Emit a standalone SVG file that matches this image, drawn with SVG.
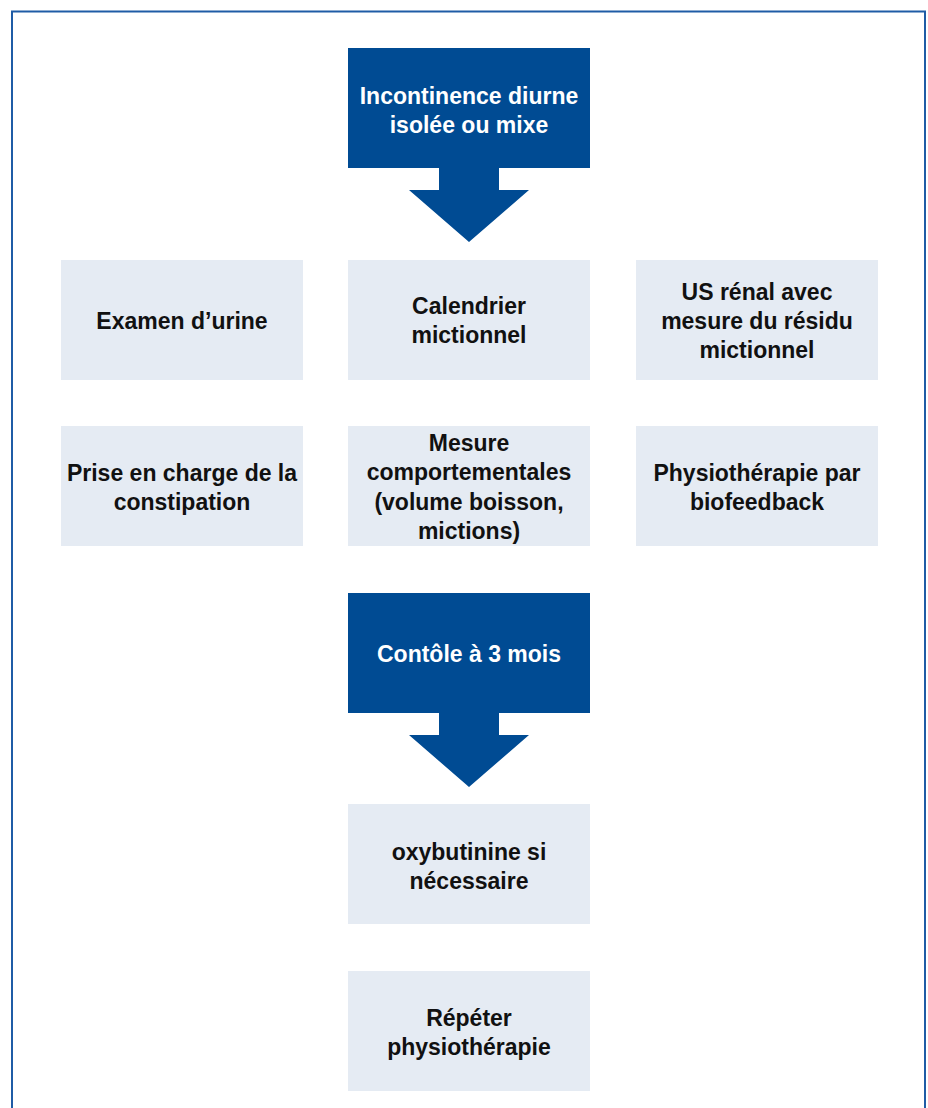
<svg xmlns="http://www.w3.org/2000/svg" width="928" height="1108" viewBox="0 0 928 1108">
<style>
.dark{fill:#004b93}
.light{fill:#e5ebf3}
.t{font-family:"Liberation Sans",Arial,sans-serif;font-weight:bold;font-size:23px;text-anchor:middle;fill:#111}
.tw{fill:#fff}
</style>
<rect x="0" y="0" width="928" height="1108" fill="#fff"/>
<rect x="12" y="11.5" width="913" height="1120" fill="none" stroke="#1f5ca6" stroke-width="2"/>
<g id="connectors">
<polygon class="dark" points="439,167 499,167 499,190 529,190 469,242 409,190 439,190"/>
<polygon class="dark" points="439,712 499,712 499,735 529,735 469,787 409,735 439,735"/>
</g>
<g id="n-start"><rect class="dark" x="348" y="48" width="242" height="120"/>
<text class="t tw" x="469" y="104">Incontinence diurne</text><text class="t tw" x="469" y="133">isolée ou mixe</text></g>
<g id="n-urine"><rect class="light" x="61" y="260" width="242" height="120"/>
<text class="t" x="182" y="329">Examen d’urine</text></g>
<g id="n-calendrier"><rect class="light" x="348" y="260" width="242" height="120"/>
<text class="t" x="469" y="314">Calendrier</text><text class="t" x="469" y="343">mictionnel</text></g>
<g id="n-us"><rect class="light" x="636" y="260" width="242" height="120"/>
<text class="t" x="757" y="300">US rénal avec</text><text class="t" x="757" y="329">mesure du résidu</text><text class="t" x="757" y="358">mictionnel</text></g>
<g id="n-constipation"><rect class="light" x="61" y="426" width="242" height="120"/>
<text class="t" x="182" y="481">Prise en charge de la</text><text class="t" x="182" y="510">constipation</text></g>
<g id="n-mesure"><rect class="light" x="348" y="426" width="242" height="120"/>
<text class="t" x="469" y="451">Mesure</text><text class="t" x="469" y="480">comportementales</text><text class="t" x="469" y="510">(volume boisson,</text><text class="t" x="469" y="539">mictions)</text></g>
<g id="n-physio"><rect class="light" x="636" y="426" width="242" height="120"/>
<text class="t" x="757" y="481">Physiothérapie par</text><text class="t" x="757" y="510">biofeedback</text></g>
<g id="n-controle"><rect class="dark" x="348" y="593" width="242" height="120"/>
<text class="t tw" x="469" y="662">Contôle à 3 mois</text></g>
<g id="n-oxy"><rect class="light" x="348" y="804" width="242" height="120"/>
<text class="t" x="469" y="860">oxybutinine si</text><text class="t" x="469" y="889">nécessaire</text></g>
<g id="n-repeter"><rect class="light" x="348" y="971" width="242" height="120"/>
<text class="t" x="469" y="1026">Répéter</text><text class="t" x="469" y="1055">physiothérapie</text></g>
</svg>
